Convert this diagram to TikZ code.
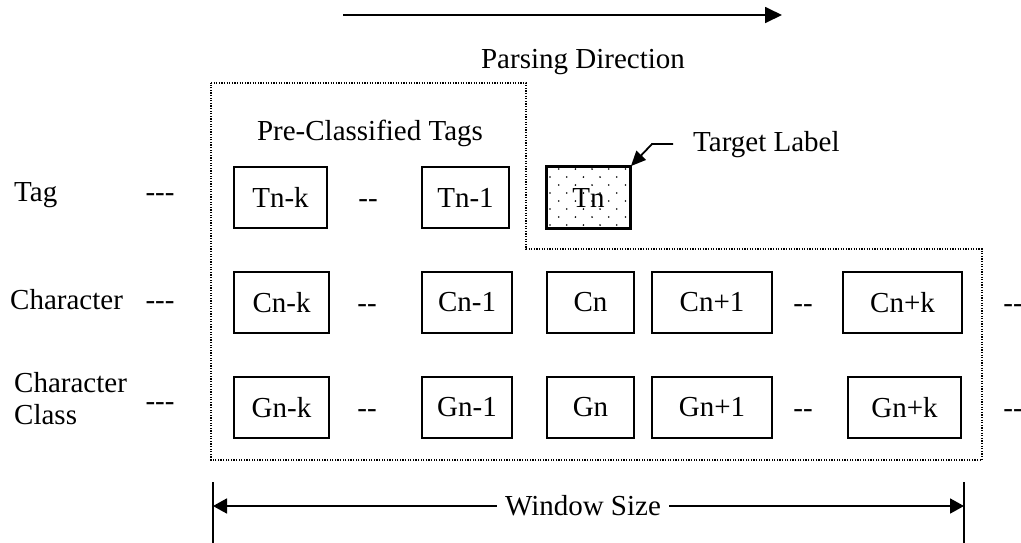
\documentclass[tikz,border=0pt]{standalone}
\usepackage{fontspec}
\setmainfont{Liberation Serif}
\usetikzlibrary{arrows.meta}
% hyphen runs kept apart so they are not joined into dashes
\newcommand\twodash{-\kern0pt-}
\newcommand\threedash{-\kern0pt-\kern0pt-}
\tikzset{
  cell/.style={draw, line width=1.8pt, minimum height=61pt, inner sep=0pt},
  gap/.style={inner sep=0pt, anchor=base},
  rowlabel/.style={anchor=west, inner sep=0pt, align=left},
  winline/.style={line width=1.4pt, dash pattern=on 1.2pt off 1.4pt},
  bigarrow/.style={line width=1.8pt, -{Triangle[length=17pt,width=16pt]}},
}
\begin{document}
\begin{tikzpicture}[x=1pt, y=-1pt, font=\fontsize{29}{33}\selectfont]
\useasboundingbox (0,0) rectangle (1021,542);

% parsing direction
\coordinate (pdL) at (343,15);
\coordinate (pdR) at (782,15);
\draw[bigarrow] (pdL) -- (pdR);
\node (pdtext) at (583,62) {Parsing Direction};

% window outline
\draw[winline] (211,83) -- (526,83) -- (526,249) -- (982,249) -- (982,460) -- (211,460) -- cycle;
\node (pretags) at (370,133) {Pre-Classified Tags};

% row labels
\node[rowlabel] (lTag) at (14,195) {Tag};
\node[rowlabel] (lChar) at (10,300) {Character};
\node[rowlabel, font=\fontsize{29}{32}\selectfont] (lClass) at (14,399) {Character\\Class};
\node[gap] (d1) at (160,0 |- lTag.base) {\threedash};
\node[gap] (d2) at (160,0 |- lChar.base) {\threedash};
\node[gap] (d3) at (160,410) {\threedash};

% tag row
\node[cell, minimum width=93pt] (Tnk) at (280.5,197.5) {Tn-k};
\node[cell, minimum width=87pt] (Tn1) at (465.5,197.5) {Tn-1};
\node[cell, minimum width=83pt] (Tn) at (588.5,197.5) {};
\begin{scope}
  \clip (Tn.south west) rectangle (Tn.north east);
  \foreach \r in {0,...,7} {
    \pgfmathsetmacro{\off}{mod(\r,2)*8}
    \foreach \c in {0,...,6} {
      \fill (542+\off+16.7*\c, 169+8*\r) circle (0.9pt);
    }
  }
\end{scope}
\draw[line width=1.8pt] (Tn.south west) rectangle (Tn.north east);
\node (TnText) at (Tn) {Tn};
\node[gap] (tg1) at (368,0 |- Tnk.base) {\twodash};

% target label
\node[anchor=west, inner sep=0pt] (target) at (693,145) {Target Label};
\coordinate (tl1) at (673,144);
\coordinate (tl2) at (652,144);
\draw[line width=1.8pt, -{Triangle[length=15pt,width=13pt]}] (tl1) -- (tl2) -- (Tn.north east);

% character row
\node[cell, minimum width=95pt] (Cnk) at (281.5,302.5) {Cn-k};
\node[cell, minimum width=90pt] (Cn1) at (467,302.5) {Cn-1};
\node[cell, minimum width=87pt] (Cn) at (590.5,302.5) {Cn};
\node[cell, minimum width=120pt] (Cnp1) at (712,302.5) {Cn+1};
\node[cell, minimum width=119pt] (Cnpk) at (902.5,302.5) {Cn+k};
\node[gap] (cg1) at (367,0 |- Cnk.base) {\twodash};
\node[gap] (cg2) at (803,0 |- Cnk.base) {\twodash};
\node[gap] (cg3) at (1013,0 |- Cnk.base) {\twodash};

% character class row
\node[cell, minimum width=95pt] (Gnk) at (281.5,407.5) {Gn-k};
\node[cell, minimum width=90pt] (Gn1) at (467,407.5) {Gn-1};
\node[cell, minimum width=87pt] (Gn) at (590.5,407.5) {Gn};
\node[cell, minimum width=120pt] (Gnp1) at (712,407.5) {Gn+1};
\node[cell, minimum width=113pt] (Gnpk) at (904.5,407.5) {Gn+k};
\node[gap] (gg1) at (367,0 |- Gnk.base) {\twodash};
\node[gap] (gg2) at (803,0 |- Gnk.base) {\twodash};
\node[gap] (gg3) at (1013,0 |- Gnk.base) {\twodash};

% window size
\coordinate (wlT) at (213,482);
\coordinate (wlB) at (213,545);
\coordinate (wrT) at (964,482);
\coordinate (wrB) at (964,545);
\draw[line width=1.6pt] (wlT) -- (wlB);
\draw[line width=1.6pt] (wrT) -- (wrB);
\coordinate (wl) at (213,506);
\coordinate (wr) at (964,506);
\draw[line width=1.8pt, {Triangle[length=14pt,width=15pt]}-{Triangle[length=14pt,width=15pt]}] (wl) -- (wr);
\node[fill=white, inner xsep=8pt, inner ysep=2pt] (wsize) at (583,506) {Window Size};
\end{tikzpicture}
\end{document}
